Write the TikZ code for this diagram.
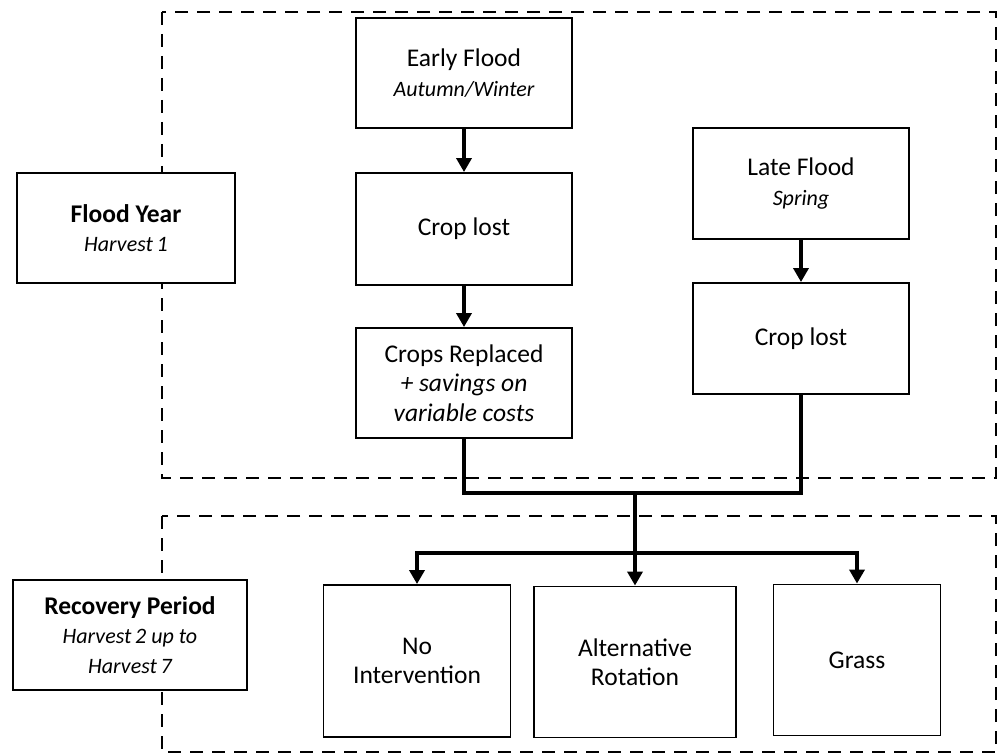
\documentclass[tikz,border=0pt]{standalone}
\usepackage{fontspec}
\setmainfont{Carlito}
\usetikzlibrary{arrows.meta}
\newcommand\subtxt{\fontsize{22}{29}\selectfont\itshape}
\begin{document}
\begin{tikzpicture}[x=1pt,y=-1pt,
  box/.style={draw, line width=1.9pt, fill=white, align=center, inner sep=2pt,
    font=\fontsize{25.5}{29.5}\selectfont},
  region/.style={draw, line width=1.8pt, dash pattern=on 13pt off 9pt},
  link/.style={line width=4.8pt},
  flow/.style={line width=4.8pt, -{Triangle[width=15pt,length=14pt]}}]
\useasboundingbox (0,0) rectangle (1003,754);
% dashed regions
\draw[region] (162,12) rectangle (996,478);
\draw[region] (162,516) rectangle (996,752);
% nodes
\node[box, minimum width=216pt, minimum height=110pt] (early) at (464,73)
  {Early Flood\\{\subtxt Autumn/Winter}};
\node[box, minimum width=216pt, minimum height=112pt] (crop1) at (464,229)
  {Crop lost};
\node[box, minimum width=216pt, minimum height=110pt] (repl) at (464,383)
  {Crops Replaced\\{\itshape + savings on}\\{\itshape variable costs}};
\node[box, minimum width=216pt, minimum height=111pt] (late) at (801,183.5)
  {Late Flood\\{\subtxt Spring}};
\node[box, minimum width=216pt, minimum height=111pt] (crop2) at (801,338.5)
  {Crop lost};
\node[box, minimum width=218pt, minimum height=110pt] (fy) at (126,228)
  {\textbf{Flood Year}\\{\subtxt Harvest\,1}};
\node[box, minimum width=234pt, minimum height=110pt] (rec) at (130,635)
  {\textbf{Recovery Period}\\{\subtxt Harvest\,2 up to}\\{\subtxt Harvest\,7}};
\node[box, minimum width=187pt, minimum height=152pt] (noi) at (417,661)
  {No\\Intervention};
\node[box, minimum width=202pt, minimum height=151pt] (alt) at (635,662)
  {Alternative\\Rotation};
\node[box, minimum width=167pt, minimum height=151pt] (grass) at (857,660)
  {Grass};
% connectors
\coordinate (j) at (635,493);
\coordinate (h) at (635,553);
\draw[flow] (early.south) -- (crop1.north);
\draw[flow] (crop1.south) -- (repl.north);
\draw[flow] (late.south) -- (crop2.north);
\draw[link] (repl.south) |- (j) -| (crop2.south);
\draw[flow] (j) -- (alt.north);
\draw[flow] (h) -| (noi.north);
\draw[flow] (h) -| (grass.north);
\end{tikzpicture}
\end{document}
